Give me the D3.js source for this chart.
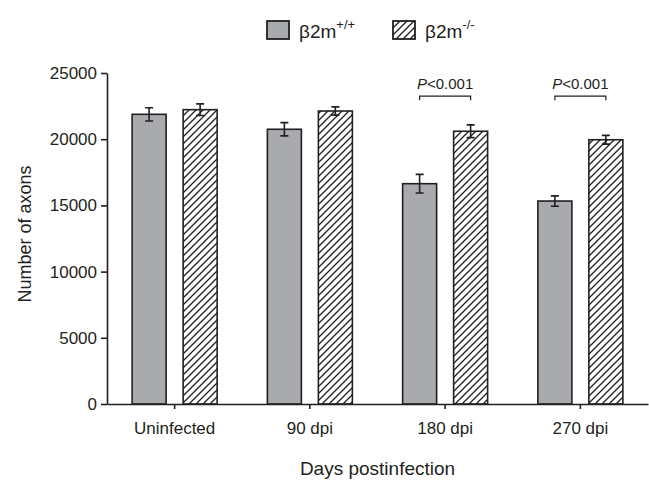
<!DOCTYPE html>
<html>
<head>
<meta charset="utf-8">
<script src="https://cdn.jsdelivr.net/npm/d3@7"></script>
<style>
    body { margin: 0; background: #fff; }
    #chart { width: 649px; height: 482px; }
    text { font-family: "Liberation Sans", Arial, sans-serif; fill: #231f20; }
</style>
</head>
<body>
<div id="chart"></div>
<script>
///// DATOS //////
const categories = ['Uninfected', '90 dpi', '180 dpi', '270 dpi'];
const groups = ['wt', 'ko'];
const wildtype = [21880, 20750, 16640, 15330];
const wildtypeErr = [500, 500, 700, 390];
const knockout = [22230, 22130, 20600, 19960];
const knockoutErr = [440, 310, 480, 330];
const yTicks = [0, 5000, 10000, 15000, 20000, 25000];
const pCategories = ['180 dpi', '270 dpi'];
const pText = '<0.001';
const pLevel = 23250;

let ink = '#231f20', grey = '#a9aaae';
let margin = {top: 73, right: 1, bottom: 78, left: 107};
let width = 649 - margin.left - margin.right,
    height = 482 - margin.top - margin.bottom;

let svg = d3.select('#chart')
    .append('svg')
        .attr('width', 649)
        .attr('height', 482);

//Patrón rayado
svg.append('defs')
    .append('pattern')
        .attr('id', 'hatch')
        .attr('patternUnits', 'userSpaceOnUse')
        .attr('width', 7)
        .attr('height', 7)
    .append('path')
        .attr('d', 'M-1,1 l2,-2 M0,7 l7,-7 M6,8 l2,-2')
        .attr('stroke', ink)
        .attr('stroke-width', 1.3);

let chart = svg.append('g')
    .attr('transform', 'translate(' + margin.left + ',' + margin.top + ')');

let x0 = d3.scaleBand()
    .domain(categories)
    .range([0, width]);

let x1 = d3.scaleBand()
    .domain(groups)
    .range([-42.5, 42.5])
    .paddingInner(1 / 3);

let y = d3.scaleLinear()
    .domain([0, 25000])
    .range([height, 0]);

//Datos por barra
let bars = [];
categories.forEach(function(c, i) {
    bars.push({cat: c, group: 'wt', value: wildtype[i], err: wildtypeErr[i]});
    bars.push({cat: c, group: 'ko', value: knockout[i], err: knockoutErr[i]});
});

function barX(d) { return x0(d.cat) + x0.bandwidth() / 2 + x1(d.group); }
function barMid(d) { return barX(d) + x1.bandwidth() / 2; }

chart.selectAll('.bar')
    .data(bars)
    .enter()
    .append('rect')
        .attr('class', 'bar')
        .attr('x', barX)
        .attr('y', function(d) { return y(d.value); })
        .attr('width', x1.bandwidth())
        .attr('height', function(d) { return height - y(d.value); })
        .attr('fill', function(d) { return d.group == 'wt' ? grey : 'url(#hatch)'; })
        .attr('stroke', ink)
        .attr('stroke-width', 1.6);

//Barras de error
let err = chart.selectAll('.err')
    .data(bars)
    .enter()
    .append('g')
        .attr('class', 'err')
        .attr('stroke', ink)
        .attr('stroke-width', 1.6)
        .attr('fill', 'none');

err.append('path')
    .attr('d', function(d) {
        let cx = barMid(d), top = y(d.value + d.err), bot = y(d.value - d.err);
        return 'M' + (cx - 4) + ',' + top + 'H' + (cx + 4) +
            'M' + cx + ',' + top + 'V' + bot +
            'M' + (cx - 4) + ',' + bot + 'H' + (cx + 4);
    });

//Ejes
let yAxis = chart.append('g')
    .call(d3.axisLeft(y).tickValues(yTicks).tickFormat(d3.format('d')).tickSize(6).tickPadding(4).tickSizeOuter(0));

let xAxis = chart.append('g')
    .attr('transform', 'translate(0,' + height + ')')
    .call(d3.axisBottom(x0).tickSize(5).tickPadding(13).tickSizeOuter(0));

[yAxis, xAxis].forEach(function(a) {
    a.selectAll('path, line').attr('stroke', ink).attr('stroke-width', 1.6);
    a.selectAll('text').attr('fill', ink).style('font-size', '17px')
        .style('font-family', '"Liberation Sans", Arial, sans-serif');
});

//Títulos de ejes
chart.append('text')
    .attr('x', width / 2)
    .attr('y', height + 71)
    .attr('text-anchor', 'middle')
    .style('font-size', '19px')
    .text('Days postinfection');

svg.append('text')
    .attr('transform', 'translate(31,234) rotate(-90)')
    .attr('text-anchor', 'middle')
    .style('font-size', '18px')
    .text('Number of axons');

//Significación
let sig = chart.selectAll('.sig')
    .data(pCategories)
    .enter()
    .append('g')
        .attr('class', 'sig');

sig.append('path')
    .attr('fill', 'none')
    .attr('stroke', ink)
    .attr('stroke-width', 1.2)
    .attr('d', function(c) {
        let a = barMid({cat: c, group: 'wt'}), b = barMid({cat: c, group: 'ko'});
        return 'M' + a + ',' + (y(pLevel) + 4) + 'V' + y(pLevel) + 'H' + b + 'V' + (y(pLevel) + 4);
    });

let pt = sig.append('text')
    .attr('x', function(c) { return x0(c) + x0.bandwidth() / 2; })
    .attr('y', y(pLevel) - 7)
    .attr('text-anchor', 'middle')
    .style('font-size', '15px');
pt.append('tspan').style('font-style', 'italic').text('P');
pt.append('tspan').text(pText);

//Leyenda
let legendItems = [
    {x: 267, fill: grey, sup: '+/+'},
    {x: 393, fill: 'url(#hatch)', sup: '-/-'}
];

let legend = svg.selectAll('.legend')
    .data(legendItems)
    .enter()
    .append('g')
        .attr('class', 'legend')
        .attr('transform', function(d) { return 'translate(' + d.x + ',21)'; });

legend.append('rect')
    .attr('width', 22)
    .attr('height', 18)
    .attr('fill', function(d) { return d.fill; })
    .attr('stroke', ink)
    .attr('stroke-width', 1.8);

let lt = legend.append('text')
    .attr('x', 32)
    .attr('y', 17)
    .style('font-size', '19px');
lt.append('tspan').text('β2m');
lt.append('tspan')
    .attr('dy', -9)
    .style('font-size', '13px')
    .text(function(d) { return d.sup; });
</script>
</body>
</html>
